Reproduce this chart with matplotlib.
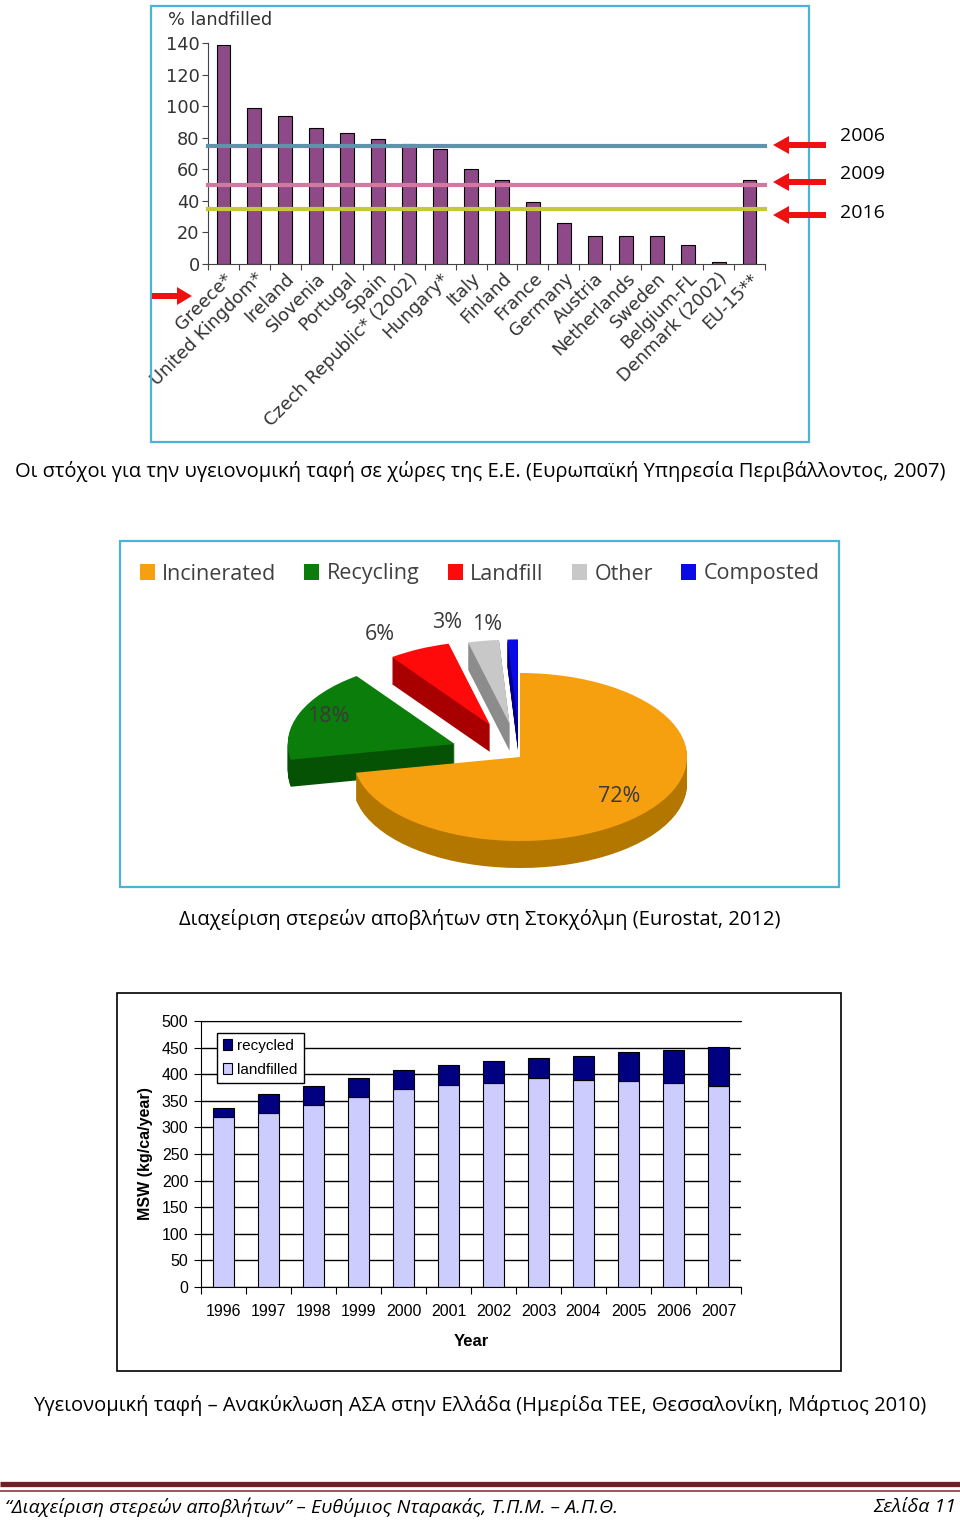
import matplotlib.pyplot as plt
import numpy as np
from matplotlib.patches import Rectangle, FancyArrow
from matplotlib.transforms import Affine2D

W, H = 960, 1520

# chart 1: % landfilled vs targets
countries = ["Greece*", "United Kingdom*", "Ireland", "Slovenia", "Portugal", "Spain",
             "Czech Republic* (2002)", "Hungary*", "Italy", "Finland", "France", "Germany",
             "Austria", "Netherlands", "Sweden", "Belgium-FL", "Denmark (2002)", "EU-15**"]
landfilled_pct = [139, 99, 94, 86, 83, 79, 76, 73, 60, 53, 39, 26, 18, 18, 18, 12, 1.5, 53]
target_years = ["2006", "2009", "2016"]
target_levels = [75, 50, 35]
target_colors = ["#5f93ab", "#d3789f", "#c3c93a"]

# chart 2: Stockholm pie
pie_labels = ["Incinerated", "Recycling", "Landfill", "Other", "Composted"]
pie_values = [72, 18, 6, 3, 1]
pie_colors = ["#f7a00f", "#0b7d0b", "#ff0a0a", "#c8c8c8", "#0a0ae6"]
pie_side = ["#b37700", "#055205", "#a80000", "#8c8c8c", "#00008c"]
pie_explode = [0, 0.42, 0.42, 0.4, 0.4]

# chart 3: MSW Greece
years = ["1996", "1997", "1998", "1999", "2000", "2001", "2002", "2003", "2004", "2005", "2006", "2007"]
msw_landfilled = [320, 328, 342, 357, 372, 379, 384, 392, 389, 387, 384, 377]
msw_recycled = [17, 35, 36, 36, 36, 39, 41, 38, 46, 54, 61, 74]

GR = ["Open Sans", "DejaVu Sans"]
AR = ["Liberation Sans", "DejaVu Sans"]


def rect(x0, y0, x1, y1):
    return [x0 / W, 1 - y1 / H, (x1 - x0) / W, (y1 - y0) / H]


fig = plt.figure(figsize=(W / 100, H / 100), dpi=100)

# ---------- chart 1
ax1 = fig.add_axes(rect(208, 43, 765, 264))
x = np.arange(len(countries))
ax1.bar(x, landfilled_pct, width=0.45, color="#8e4a88", edgecolor="black", linewidth=0.8, zorder=2)
for lev, c in zip(target_levels, target_colors):
    ax1.axhline(lev, color=c, lw=3, zorder=3, clip_on=False)
ax1.set_xlim(-0.5, len(countries) - 0.5)
ax1.set_ylim(0, 140)
ax1.set_yticks(range(0, 141, 20))
ax1.set_xticks(np.arange(-0.5, len(countries), 1))
ax1.set_xticklabels([])
ax1.set_xticks(x, minor=True)
ax1.set_xticklabels(countries, minor=True, rotation=45, ha="right", rotation_mode="anchor",
                    fontsize=12.8, color="#333333", family="DejaVu Sans")
ax1.tick_params(axis="x", which="minor", length=0, pad=4)
ax1.tick_params(axis="x", which="major", length=4, color="#444444")
ax1.tick_params(axis="y", length=4, labelsize=12.8, labelcolor="#333333", color="#444444", pad=2)
for s in ["top", "right"]:
    ax1.spines[s].set_visible(False)
for s in ["left", "bottom"]:
    ax1.spines[s].set_color("#444444")

# ---------- chart 2
ax2 = fig.add_axes(rect(120, 541, 839, 887))
cx, cy, rx, ry, depth = 400, 130, 167, 84, 27
front_order = [4, 0, 1, 2, 3]
top = None
for d in range(depth, -1, -1):
    cols = pie_colors if d == 0 else pie_side
    wedges, _ = ax2.pie(pie_values, colors=cols, explode=pie_explode, startangle=90,
                        counterclock=False, wedgeprops=dict(linewidth=0))
    tr = Affine2D().scale(rx, ry).translate(cx, cy - d) + ax2.transData
    for i, w in enumerate(wedges):
        w.set_transform(tr)
        w.set_zorder(front_order[i] + 1)
    if d == 0:
        top = wedges
ax2.set_aspect("auto")
ax2.set_xlim(0, 719)
ax2.set_ylim(0, 346)
ax2.axis("off")
pct_pos = [(619, 797), (328, 716), (380, 634), (447, 623), (487, 625)]
for v, (px, py) in zip(pie_values, pct_pos):
    ax2.text(px - 120, 887 - py, f"{v}%", ha="center", va="center", fontsize=15.5,
             color="#3a3a3a", family=GR, zorder=10)
ax2.legend(top, pie_labels, ncol=5, loc="center", bbox_to_anchor=(0.5, (887 - 574) / 346),
           frameon=False, prop={"family": GR, "size": 15.5}, labelcolor="#404040",
           handlelength=0.7, handleheight=0.8, handletextpad=0.35, columnspacing=1.3)

# ---------- chart 3
ax3 = fig.add_axes(rect(201, 1021, 741, 1287))
xx = np.arange(len(years))
ax3.bar(xx, msw_landfilled, width=0.45, color="#ccccff", edgecolor="black", linewidth=0.8,
        label="landfilled", zorder=2)
ax3.bar(xx, msw_recycled, bottom=msw_landfilled, width=0.45, color="#000080", edgecolor="black",
        linewidth=0.8, label="recycled", zorder=2)
ax3.set_xlim(-0.5, len(years) - 0.5)
ax3.set_ylim(0, 500)
ax3.set_yticks(range(0, 501, 50))
ax3.yaxis.grid(True, color="black", lw=1)
ax3.set_axisbelow(True)
ax3.set_xticks(np.arange(-0.5, len(years), 1))
ax3.set_xticklabels([])
ax3.set_xticks(xx, minor=True)
ax3.set_xticklabels(years, minor=True, fontsize=11.5, family=AR)
ax3.tick_params(axis="x", which="minor", length=0, pad=12)
ax3.tick_params(axis="x", which="major", length=5)
ax3.tick_params(axis="y", length=5, pad=4)
for lab in ax3.get_yticklabels():
    lab.set_fontsize(11.5)
    lab.set_family(AR)
ax3.spines["right"].set_visible(False)
ax3.set_ylabel("MSW (kg/ca/year)", fontsize=11.5, fontweight="bold", family=AR)
ax3.yaxis.set_label_coords(-(201 - 153) / 540, 0.5)
ax3.set_xlabel("Year", fontsize=12, fontweight="bold", family=AR)
ax3.xaxis.set_label_coords(0.5, -(1334 - 1287) / 266)
h, l = ax3.get_legend_handles_labels()
ax3.legend(h[::-1], l[::-1], loc="upper left", bbox_to_anchor=(0.03, 0.955), fancybox=False,
           edgecolor="black", framealpha=1, prop={"family": AR, "size": 11},
           handlelength=0.6, handleheight=0.7, handletextpad=0.3, borderpad=0.4, labelspacing=0.65,
           borderaxespad=0)

# ---------- page overlay
ov = fig.add_axes([0, 0, 1, 1], zorder=20)
ov.set_xlim(0, W)
ov.set_ylim(H, 0)
ov.axis("off")
ov.patch.set_alpha(0)
ov.add_patch(Rectangle((151, 6), 658, 436, fill=False, edgecolor="#4ab3d8", lw=1.6))
ov.add_patch(Rectangle((120, 541), 719, 346, fill=False, edgecolor="#4ab3d8", lw=1.6))
ov.add_patch(Rectangle((117, 993), 724, 378, fill=False, edgecolor="black", lw=1.2))

ov.text(168, 20, "% landfilled", fontsize=12.8, color="#333333", va="center", family="DejaVu Sans")
for yr, ya, yt in zip(target_years, [145, 182, 215], [136, 174, 213]):
    ov.add_patch(FancyArrow(826, ya, -53, 0, width=6, head_width=18, head_length=16,
                            length_includes_head=True, color="#ee1111", lw=0))
    ov.text(840, yt, yr, fontsize=14, va="center", family=GR)
ov.add_patch(FancyArrow(152, 296, 40, 0, width=6, head_width=18, head_length=15,
                        length_includes_head=True, color="#ee1111", lw=0))

ov.text(480, 472, "Οι στόχοι για την υγειονομική ταφή σε χώρες της Ε.Ε. (Ευρωπαϊκή Υπηρεσία Περιβάλλοντος, 2007)",
        ha="center", va="center", fontsize=14.5, family=GR)
ov.text(480, 919, "Διαχείριση στερεών αποβλήτων στη Στοκχόλμη (Eurostat, 2012)",
        ha="center", va="center", fontsize=14.5, family=GR)
ov.text(480, 1406, "Υγειονομική ταφή – Ανακύκλωση ΑΣΑ στην Ελλάδα (Ημερίδα ΤΕΕ, Θεσσαλονίκη, Μάρτιος 2010)",
        ha="center", va="center", fontsize=14.5, family=GR)

ov.plot([0, W], [1484, 1484], color="#6a2424", lw=3.8, solid_capstyle="butt")
ov.plot([0, W], [1491, 1491], color="#8a3a3a", lw=1.2, solid_capstyle="butt")
ov.text(5, 1507, "“Διαχείριση στερεών αποβλήτων” – Ευθύμιος Νταρακάς, Τ.Π.Μ. – Α.Π.Θ.",
        ha="left", va="center", fontsize=14, style="italic", family=GR)
ov.text(956, 1507, "Σελίδα 11", ha="right", va="center", fontsize=14, style="italic", family=GR)

fig.savefig("out.png", dpi=100)
